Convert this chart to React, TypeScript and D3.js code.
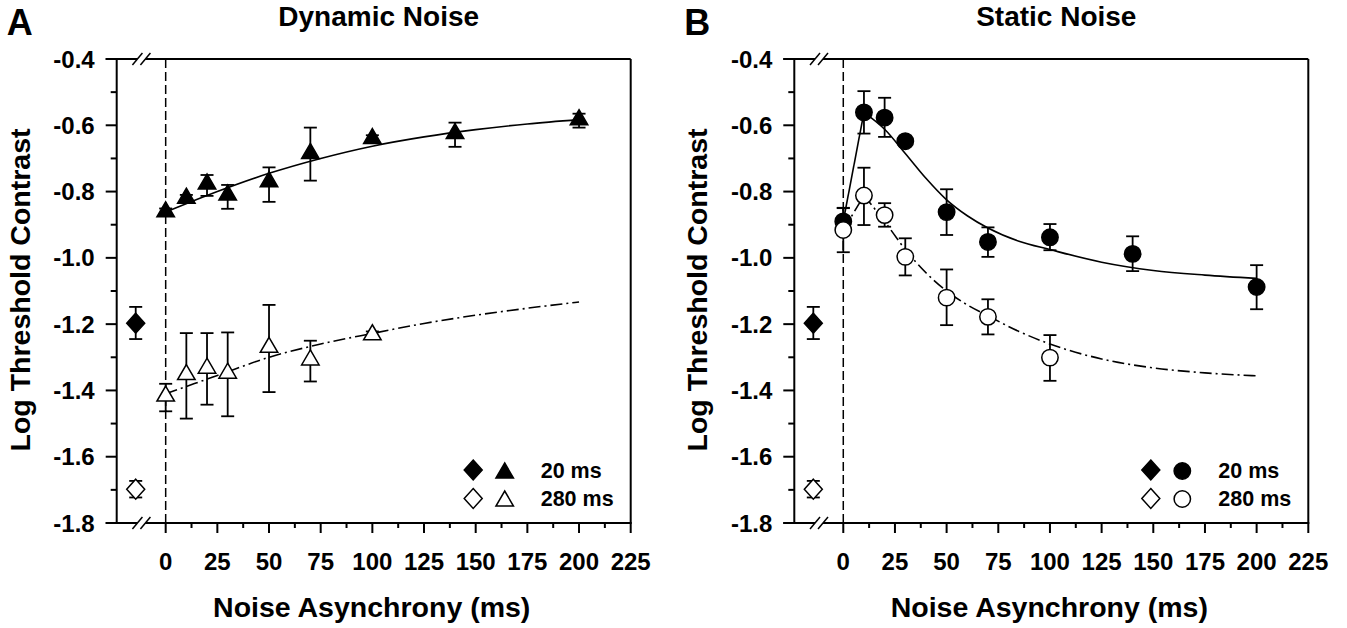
import React from 'react';
import * as d3 from 'd3';

// noise asynchrony (ms) of the measured points
const dynX20 = [0, 10, 20, 30, 50, 70, 100, 140, 200];
const dyn20 = [-0.861, -0.82, -0.777, -0.81, -0.77, -0.685, -0.64, -0.625, -0.583];
const dyn20Hi = [-0.851, -0.81, -0.75, -0.78, -0.727, -0.607, -0.63, -0.592, -0.565];
const dyn20Lo = [-0.871, -0.83, -0.813, -0.852, -0.831, -0.767, -0.65, -0.665, -0.607];

const dynX280 = [0, 10, 20, 30, 50, 70, 100];
const dyn280 = [-1.417, -1.352, -1.333, -1.348, -1.27, -1.308, -1.232];
const dyn280Hi = [-1.38, -1.227, -1.227, -1.225, -1.142, -1.25, -1.222];
const dyn280Lo = [-1.463, -1.485, -1.443, -1.478, -1.405, -1.373, -1.242];

const statX20 = [0, 10, 20, 30, 50, 70, 100, 140, 200];
const stat20 = [-0.89, -0.561, -0.577, -0.648, -0.862, -0.952, -0.938, -0.988, -1.088];
const stat20Hi = [-0.85, -0.497, -0.517, -0.638, -0.793, -0.908, -0.898, -0.935, -1.022];
const stat20Lo = [-0.93, -0.625, -0.635, -0.658, -0.931, -0.997, -0.977, -1.04, -1.155];

const statX280 = [0, 10, 20, 30, 50, 70, 100];
const stat280 = [-0.916, -0.812, -0.871, -0.997, -1.12, -1.178, -1.301];
const stat280Hi = [-0.849, -0.728, -0.835, -0.941, -1.035, -1.125, -1.233];
const stat280Lo = [-0.983, -0.901, -0.906, -1.053, -1.203, -1.231, -1.371];

// pure-signal baseline (diamonds), same in both panels
const baseX = -14.5;
const base = [-1.197, -1.698];
const baseHi = [-1.148, -1.673];
const baseLo = [-1.245, -1.723];

// fitted curves
const dynFitX = [0, 25, 50, 75, 100, 125, 150, 175, 200];
const dynFit20 = [-0.862, -0.8, -0.745, -0.7, -0.663, -0.635, -0.613, -0.596, -0.583];
const dynFit280 = [-1.41, -1.355, -1.3, -1.26, -1.228, -1.198, -1.173, -1.152, -1.133];

const statFitX = [10, 20, 30, 40, 50, 60, 70, 85, 100, 125, 150, 175, 200];
const statFit20 = [-0.561, -0.612, -0.685, -0.76, -0.825, -0.873, -0.91, -0.95, -0.975, -1.013, -1.038, -1.052, -1.062];
const statFit280 = [-0.812, -0.89, -0.975, -1.045, -1.1, -1.142, -1.175, -1.222, -1.26, -1.305, -1.332, -1.347, -1.356];
// rising part before the peak (0 -> 10 ms)
const statRise20 = [-0.89, -0.561];
const statRise280 = [-0.916, -0.812];

const xTicks = [0, 25, 50, 75, 100, 125, 150, 175, 200, 225];
const yTicks = [-0.4, -0.6, -0.8, -1.0, -1.2, -1.4, -1.6, -1.8];

const FONT = '"Liberation Sans", Arial, Helvetica, sans-serif';

const zip = (xs: number[], ys: number[]) => xs.map((x, i) => [x, ys[i]] as [number, number]);

const triPath = (w: number, h: number) =>
  `M0,${-h * 2 / 3}L${w / 2},${h / 3}L${-w / 2},${h / 3}Z`;
const diaPath = (w: number, h: number) => `M0,${-h / 2}L${w / 2},0L0,${h / 2}L${-w / 2},0Z`;

type Series = { x: number[]; y: number[]; hi: number[]; lo: number[]; filled: boolean };

function Marker({ shape, filled, x, y }: { shape: string; filled: boolean; x: number; y: number }) {
  const fill = filled ? '#000' : '#fff';
  if (shape === 'circle') return <circle cx={x} cy={y} r={8.2} fill={fill} stroke="#000" strokeWidth={1.5} />;
  const d = shape === 'tri' ? triPath(17.5, 15) : diaPath(18, 20);
  return <path d={d} transform={`translate(${x},${y})`} fill={fill} stroke="#000" strokeWidth={1.5} />;
}

function Panel(props: {
  left: number; letter: string; title: string; shape: string;
  series: Series[];
  fits: { pts: [number, number][]; dash?: string; curve: any }[];
}) {
  const { left, letter, title, shape, series, fits } = props;
  const x = d3.scaleLinear().domain([-23.7, 225]).range([left, left + 514]);
  const y = d3.scaleLinear().domain([-1.8, -0.4]).range([523, 59]);
  const [yBot, yTop] = y.range();
  const xr = x(225);
  const minorX = d3.range(0, 226, 12.5).filter(v => v % 25 !== 0);
  const minorY = d3.range(-1.7, -0.4, 0.2);
  const breakX = x(-11.5);

  const brk = (yy: number, key: string) => (
    <g key={key}>
      <path d={`M${breakX - 9.5},${yy + 6}L${breakX + 0.5},${yy - 6}L${breakX + 8.5},${yy - 6}L${breakX - 1.5},${yy + 6}Z`} fill="#fff" />
      <line x1={breakX - 9.5} y1={yy + 6} x2={breakX + 0.5} y2={yy - 6} stroke="#000" strokeWidth={1.5} />
      <line x1={breakX - 1.5} y1={yy + 6} x2={breakX + 8.5} y2={yy - 6} stroke="#000" strokeWidth={1.5} />
    </g>
  );

  return (
    <g fontFamily={FONT} fontWeight="bold" fill="#000">
      <text x={left - 110} y={35} fontSize={36}>{letter}</text>
      <text x={(left + xr) / 2 + 5} y={26} fontSize={28} textAnchor="middle">{title}</text>
      <text transform={`translate(${left - 87},${290}) rotate(-90)`} fontSize={28.5} textAnchor="middle">Log Threshold Contrast</text>
      <text x={(left + xr) / 2 - 2} y={617} fontSize={28.5} textAnchor="middle">Noise Asynchrony (ms)</text>

      {/* frame */}
      <line x1={left - 11} y1={yTop} x2={xr} y2={yTop} stroke="#000" strokeWidth={2} />
      <line x1={left - 11} y1={yBot} x2={xr + 1} y2={yBot} stroke="#000" strokeWidth={2} />
      <line x1={left} y1={yTop} x2={left} y2={yBot} stroke="#000" strokeWidth={2} />
      <line x1={xr} y1={yTop} x2={xr} y2={yBot} stroke="#000" strokeWidth={2} />

      {yTicks.map(t => (
        <g key={t}>
          <line x1={left - 11} x2={left} y1={y(t)} y2={y(t)} stroke="#000" strokeWidth={2} />
          <text x={left - 22} y={y(t)} dy="0.36em" fontSize={24} textAnchor="end">{t.toFixed(1)}</text>
        </g>
      ))}
      {minorY.map(t => (
        <line key={t} x1={left - 6} x2={left} y1={y(t)} y2={y(t)} stroke="#000" strokeWidth={2} />
      ))}
      {xTicks.map(t => (
        <g key={t}>
          <line x1={x(t)} x2={x(t)} y1={yBot} y2={yBot + 10} stroke="#000" strokeWidth={2} />
          <text x={x(t)} y={569.5} fontSize={24} textAnchor="middle">{t}</text>
        </g>
      ))}
      {minorX.map(t => (
        <line key={t} x1={x(t)} x2={x(t)} y1={yBot} y2={yBot + 5} stroke="#000" strokeWidth={2} />
      ))}
      {brk(yTop, 'bt')}
      {brk(yBot, 'bb')}

      {/* stimulus onset */}
      <line x1={x(0)} x2={x(0)} y1={yTop} y2={yBot} stroke="#000" strokeWidth={1.5} strokeDasharray="9,4" />

      {fits.map((f, i) => {
        const line = d3.line().x(d => x(d[0])).y(d => y(d[1])).curve(f.curve);
        return <path key={i} d={line(f.pts) || ''} fill="none" stroke="#000" strokeWidth={1.6} strokeDasharray={f.dash} />;
      })}

      {/* error bars */}
      {[{ x: [baseX, baseX], y: base, hi: baseHi, lo: baseLo, filled: true }, ...series].map((s, si) =>
        s.x.map((xv, i) => {
          const cx = x(xv);
          return (
            <g key={`e${si}-${i}`} stroke="#000" strokeWidth={1.8}>
              <line x1={cx} x2={cx} y1={y(s.hi[i])} y2={y(s.lo[i])} />
              <line x1={cx - 6.5} x2={cx + 6.5} y1={y(s.hi[i])} y2={y(s.hi[i])} />
              <line x1={cx - 6.5} x2={cx + 6.5} y1={y(s.lo[i])} y2={y(s.lo[i])} />
            </g>
          );
        })
      )}

      {base.map((v, i) => <Marker key={`d${i}`} shape="dia" filled={i === 0} x={x(baseX)} y={y(v)} />)}
      {series.map((s, si) => s.x.map((xv, i) => (
        <Marker key={`m${si}-${i}`} shape={shape} filled={s.filled} x={x(xv)} y={y(s.y[i])} />
      )))}

      {/* legend */}
      <Marker shape="dia" filled={true} x={xr - 157.5} y={470} />
      <Marker shape={shape} filled={true} x={xr - 126} y={shape === 'tri' ? 473 : 471} />
      <text x={xr - 90} y={470} dy="0.36em" fontSize={21.5}>20 ms</text>
      <Marker shape="dia" filled={false} x={xr - 157.5} y={498.5} />
      <Marker shape={shape} filled={false} x={xr - 126} y={shape === 'tri' ? 501 : 499} />
      <text x={xr - 90} y={498.5} dy="0.36em" fontSize={21.5}>280 ms</text>
    </g>
  );
}

export default function App() {
  return (
    <svg width={1347} height={628} style={{ position: 'absolute', left: 0, top: 0, background: '#fff' }}>
      <rect width={1347} height={628} fill="#fff" />
      <Panel
        left={116.7}
        letter="A"
        title="Dynamic Noise"
        shape="tri"
        series={[
          { x: dynX20, y: dyn20, hi: dyn20Hi, lo: dyn20Lo, filled: true },
          { x: dynX280, y: dyn280, hi: dyn280Hi, lo: dyn280Lo, filled: false },
        ]}
        fits={[
          { pts: zip(dynFitX, dynFit20), curve: d3.curveMonotoneX },
          { pts: zip(dynFitX, dynFit280), curve: d3.curveMonotoneX, dash: '12,4,2,4' },
        ]}
      />
      <Panel
        left={794.3}
        letter="B"
        title="Static Noise"
        shape="circle"
        series={[
          { x: statX20, y: stat20, hi: stat20Hi, lo: stat20Lo, filled: true },
          { x: statX280, y: stat280, hi: stat280Hi, lo: stat280Lo, filled: false },
        ]}
        fits={[
          { pts: zip([0, 10], statRise20), curve: d3.curveLinear },
          { pts: zip(statFitX, statFit20), curve: d3.curveMonotoneX },
          { pts: zip([0, 10], statRise280), curve: d3.curveLinear, dash: '12,4,2,4' },
          { pts: zip(statFitX, statFit280), curve: d3.curveMonotoneX, dash: '12,4,2,4' },
        ]}
      />
    </svg>
  );
}
